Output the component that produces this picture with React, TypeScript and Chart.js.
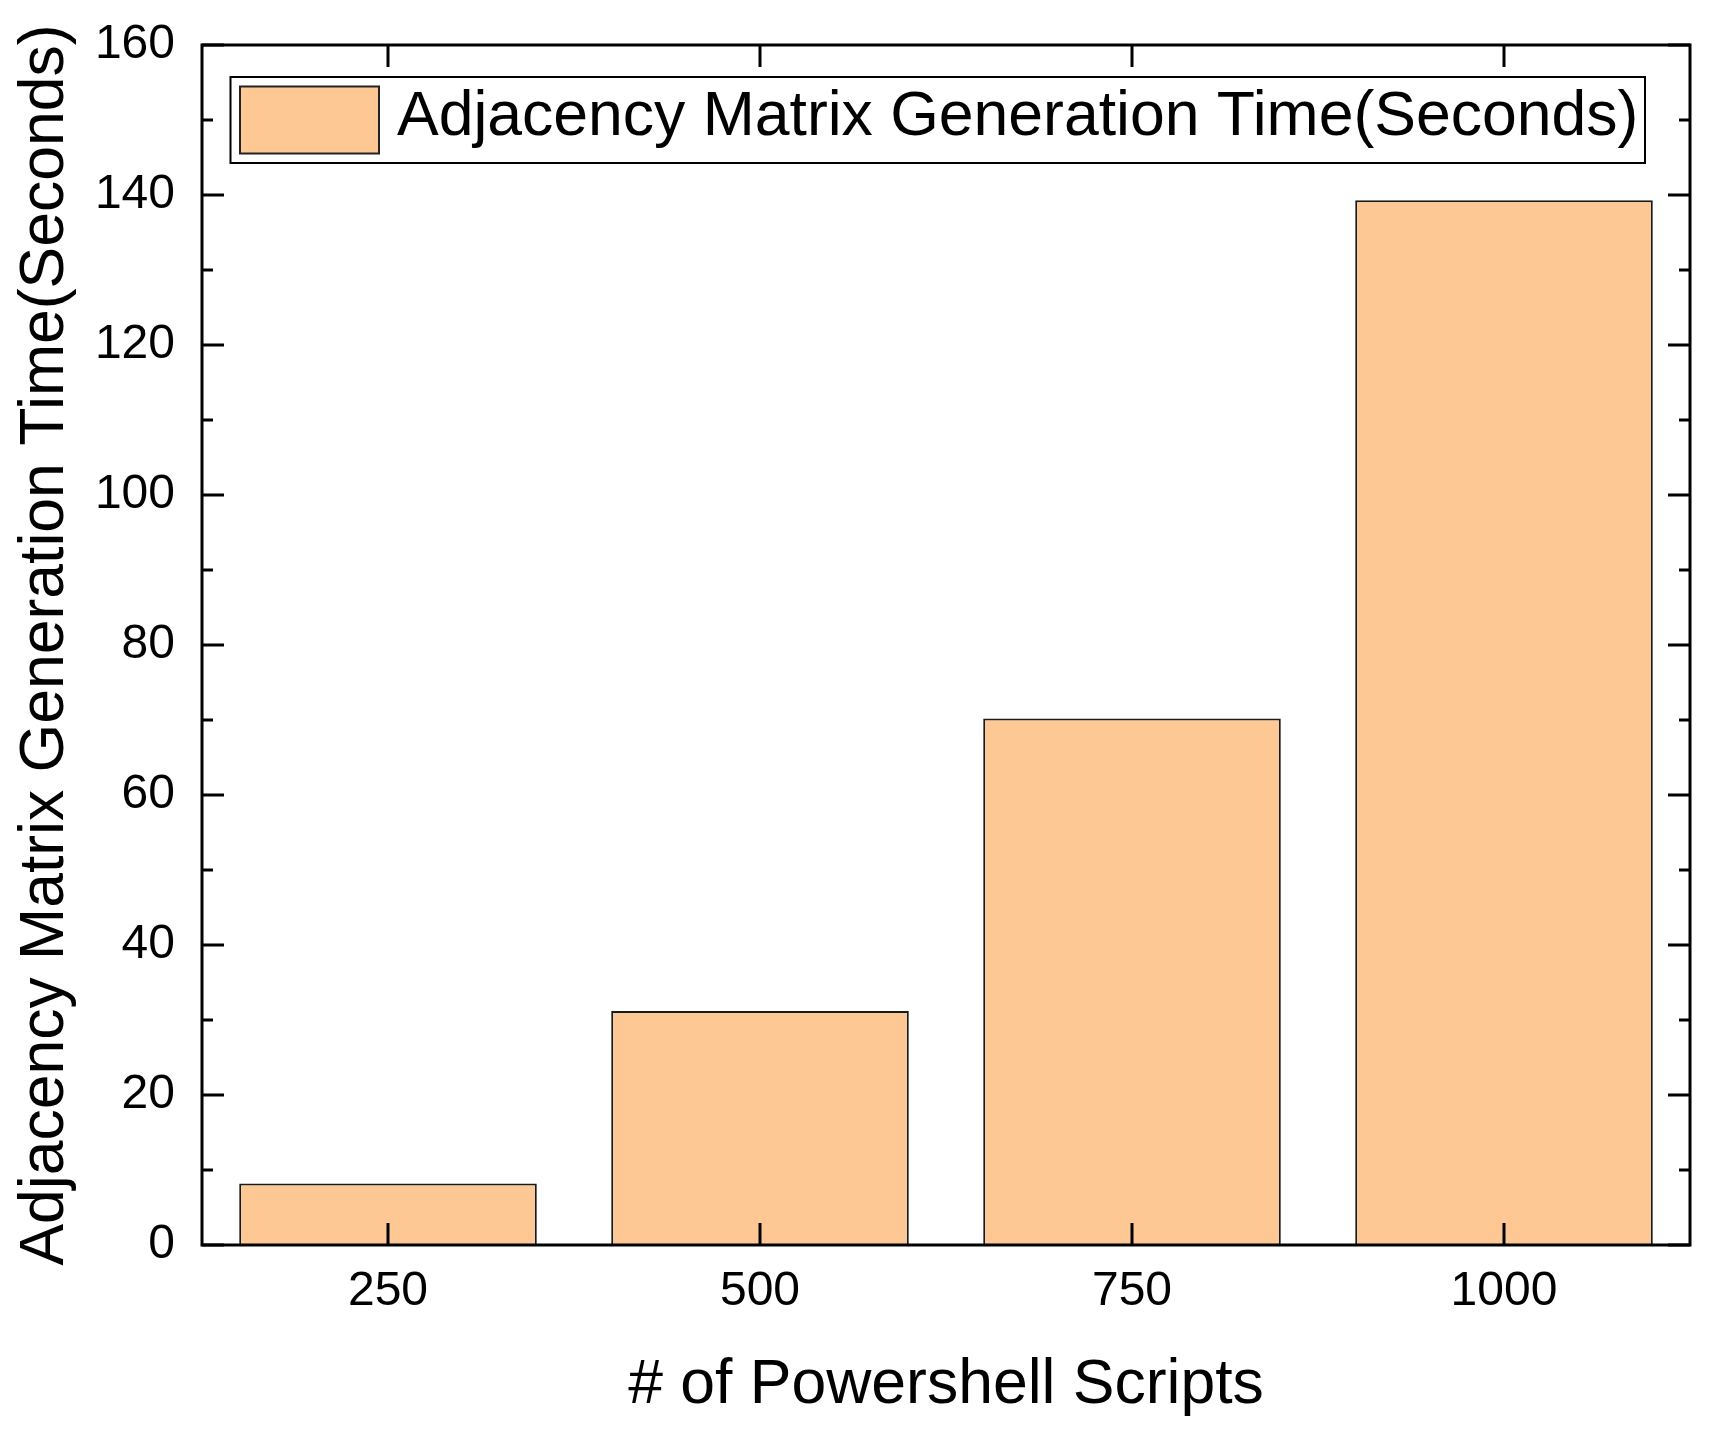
import { useEffect, useRef } from "react";
import { Chart, registerables } from "chart.js";

Chart.register(...registerables);

const categories = ["250", "500", "750", "1000"];
const generationTimes = [8.2, 31.2, 70.2, 139.3];
const yMajorTicks = [0, 20, 40, 60, 80, 100, 120, 140, 160];
const yMinorTicks = [10, 30, 50, 70, 90, 110, 130, 150];
const seriesLabel = "Adjacency Matrix Generation Time(Seconds)";
const xAxisTitle = "# of Powershell Scripts";
const yAxisTitle = "Adjacency Matrix Generation Time(Seconds)";

const FONT = "'Liberation Sans', Arial, Helvetica, sans-serif";
const BAR_FILL = "rgb(254, 200, 148)";
const BAR_EDGE = "#1a1a1a";

const framePlugin = {
  id: "frameAndTicks",
  afterDatasetsDraw(chart: any) {
    const { ctx, chartArea: ca, scales } = chart;
    const x = scales.x;
    const y = scales.y;
    ctx.save();
    ctx.strokeStyle = "#000";
    ctx.lineWidth = 3;
    ctx.lineCap = "butt";
    ctx.beginPath();
    const major = 22;
    const minor = 11;
    yMajorTicks.forEach((v) => {
      const py = y.getPixelForValue(v);
      ctx.moveTo(ca.left, py);
      ctx.lineTo(ca.left + major, py);
      ctx.moveTo(ca.right, py);
      ctx.lineTo(ca.right - major, py);
    });
    yMinorTicks.forEach((v) => {
      const py = y.getPixelForValue(v);
      ctx.moveTo(ca.left, py);
      ctx.lineTo(ca.left + minor, py);
      ctx.moveTo(ca.right, py);
      ctx.lineTo(ca.right - minor, py);
    });
    categories.forEach((_, i) => {
      const px = x.getPixelForValue(i);
      ctx.moveTo(px, ca.bottom);
      ctx.lineTo(px, ca.bottom - major);
      ctx.moveTo(px, ca.top);
      ctx.lineTo(px, ca.top + major);
    });
    ctx.stroke();
    ctx.strokeRect(ca.left, ca.top, ca.right - ca.left, ca.bottom - ca.top);

    // legend
    const ds = chart.data.datasets[0];
    const boxL = ca.left + 28.5;
    const boxT = ca.top + 32;
    const boxR = ca.right - 45;
    const boxB = ca.top + 118;
    ctx.fillStyle = "#fff";
    ctx.fillRect(boxL, boxT, boxR - boxL, boxB - boxT);
    ctx.lineWidth = 2;
    ctx.strokeStyle = "#000";
    ctx.strokeRect(boxL, boxT, boxR - boxL, boxB - boxT);
    const swL = boxL + 9.5;
    const swT = boxT + 9.5;
    const swW = 139;
    const swH = 67;
    ctx.fillStyle = ds.backgroundColor;
    ctx.fillRect(swL, swT, swW, swH);
    ctx.strokeStyle = "#222";
    ctx.lineWidth = 2;
    ctx.strokeRect(swL, swT, swW, swH);
    ctx.fillStyle = "#000";
    ctx.font = `62.5px ${FONT}`;
    ctx.textAlign = "left";
    ctx.textBaseline = "middle";
    ctx.fillText(ds.label, swL + swW + 18, (boxT + boxB) / 2 - 2);
    ctx.restore();
  },
};

export default function App() {
  const canvasRef = useRef<HTMLCanvasElement | null>(null);

  useEffect(() => {
    const canvas = canvasRef.current;
    if (!canvas) return;
    const chart = new Chart(canvas, {
      type: "bar",
      data: {
        labels: categories,
        datasets: [
          {
            label: seriesLabel,
            data: generationTimes,
            backgroundColor: BAR_FILL,
            borderColor: BAR_EDGE,
            borderWidth: 2,
            barPercentage: 0.8,
            categoryPercentage: 1,
          },
        ],
      },
      options: {
        responsive: false,
        animation: false,
        devicePixelRatio: 1,
        layout: { padding: { top: 45, right: 29, left: 0, bottom: 0 } },
        plugins: {
          legend: { display: false },
          tooltip: { enabled: false },
        },
        scales: {
          x: {
            type: "category",
            offset: true,
            grid: { display: false, drawTicks: false },
            border: { display: false },
            ticks: {
              font: { family: FONT, size: 48 },
              color: "#000",
              padding: 18,
            },
            title: {
              display: true,
              text: xAxisTitle,
              font: { family: FONT, size: 62.5 },
              color: "#000",
              padding: { top: 0, bottom: 8 },
            },
            afterFit: (s: any) => {
              s.height = 186;
              s.paddingLeft = 0;
              s.paddingRight = 0;
            },
          },
          y: {
            min: 0,
            max: 160,
            grid: { display: false, drawTicks: false },
            border: { display: false },
            afterBuildTicks: (s: any) => {
              s.ticks = yMajorTicks.map((v) => ({ value: v }));
            },
            ticks: {
              font: { family: FONT, size: 48 },
              color: "#000",
              padding: 27,
            },
            title: {
              display: true,
              text: yAxisTitle,
              font: { family: FONT, size: 62.5 },
              color: "#000",
              padding: { top: 8, bottom: 0 },
            },
            afterFit: (s: any) => {
              s.width = 202;
              s.paddingTop = 0;
              s.paddingBottom = 0;
            },
          },
        },
      },
      plugins: [framePlugin],
    } as any);
    return () => chart.destroy();
  }, []);

  return (
    <div style={{ position: "absolute", left: 0, top: 0, width: 1719, height: 1431, background: "#fff" }}>
      <canvas ref={canvasRef} width={1719} height={1431} style={{ display: "block" }} />
    </div>
  );
}
